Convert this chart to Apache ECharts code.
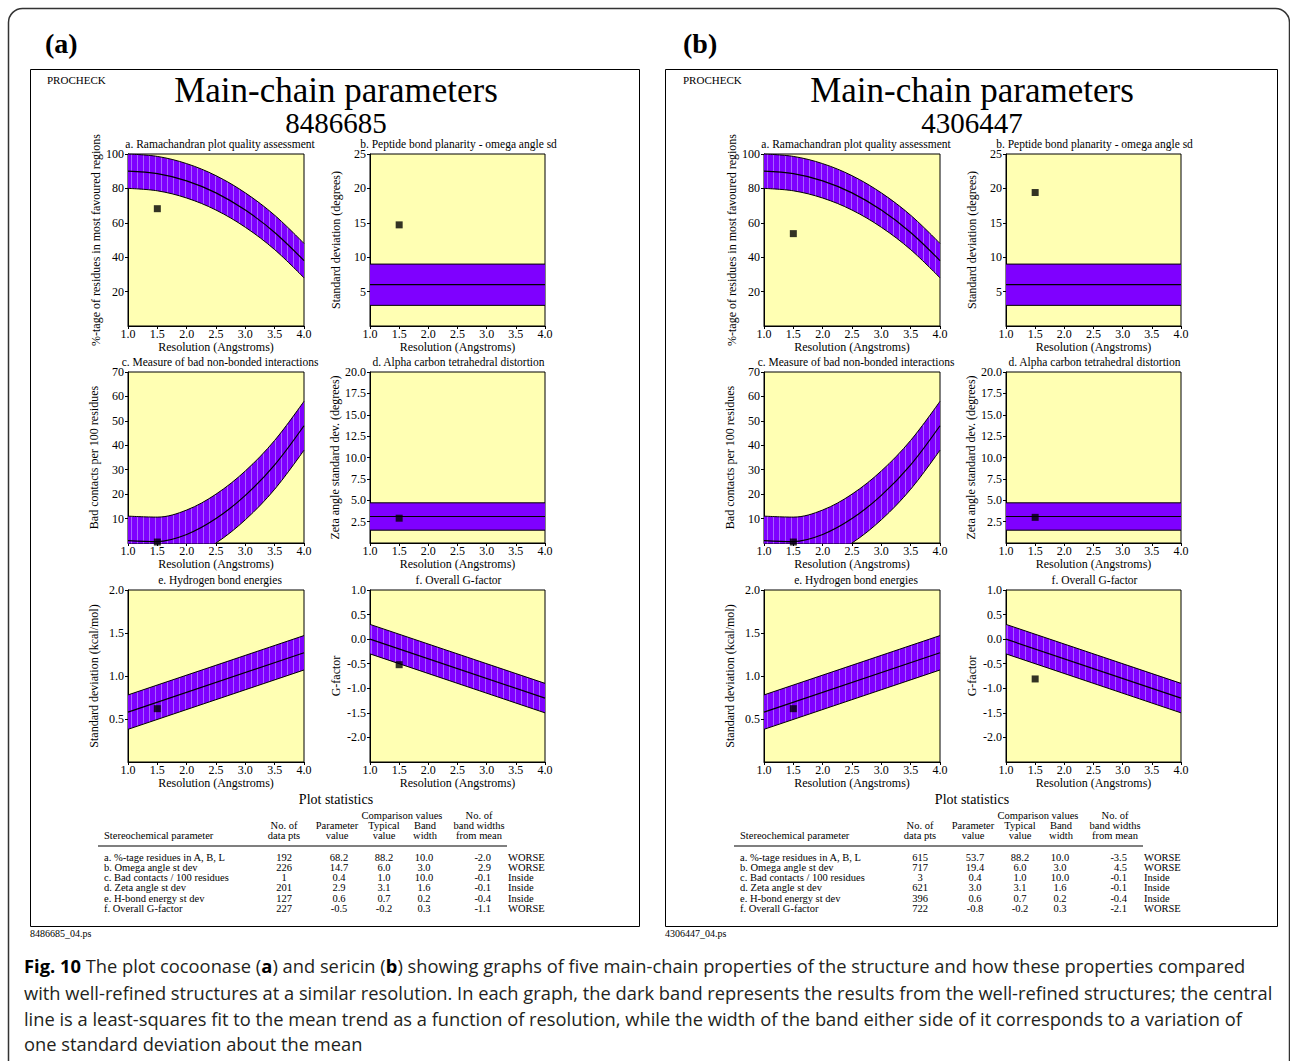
<!DOCTYPE html>
<html>
<head>
<meta charset="utf-8">
<script src="https://cdn.jsdelivr.net/npm/echarts@6/dist/echarts.min.js"></script>
<style>
html,body{margin:0;padding:0;background:#fff;}
#c{width:1290px;height:1061px;}
</style>
</head>
<body>
<div id="c"></div>
<script>
// ---------------- data ----------------
const resCurve = [1.0, 1.5, 2.0, 2.5, 3.0, 3.5, 4.0];   // resolution points for curved fits
const resLine = [1.0, 4.0];                              // resolution points for straight fits
const meanRama = [90, 88.6, 84.4, 77.4, 67.4, 54.4, 38];  // a. mean trend
const meanOmega = [6.0, 6.0];                            // b.
const meanBad = [1.0, 0.6, 3.5, 10, 19.5, 32, 48];        // c.
const meanZeta = [3.1, 3.1];                             // d.
const meanHbond = [0.58, 1.27];                          // e.
const meanG = [0.0, -1.2];                               // f.
const bandWidth = [10.0, 3.0, 10.0, 1.6, 0.2, 0.3];
const pointRes = 1.5;
const pointsA = [68.2, 14.7, 0.4, 2.9, 0.62, -0.52];
const pointsB = [53.7, 19.4, 0.4, 3.0, 0.62, -0.81];
const yMin = [0, 0, 0, 0, 0, -2.5];
const yMax = [100, 25, 70, 20, 2.0, 1.0];
const yStep = [20, 5, 10, 2.5, 0.5, 0.5];
const yDecimals = [0, 0, 0, 1, 1, 1];
const plotTitles = ['a. Ramachandran plot quality assessment', 'b. Peptide bond planarity - omega angle sd',
  'c. Measure of bad non-bonded interactions', 'd. Alpha carbon tetrahedral distortion',
  'e. Hydrogen bond energies', 'f. Overall G-factor'];
const yNames = ['%-tage of residues in most favoured regions', 'Standard deviation (degrees)',
  'Bad contacts per 100 residues', 'Zeta angle standard dev. (degrees)',
  'Standard deviation (kcal/mol)', 'G-factor'];
const xName = 'Resolution (Angstroms)';
const panelIds = ['8486685', '4306447'];
const panelLetters = ['(a)', '(b)'];
const statLabels = ['a. %-tage residues in A, B, L', 'b. Omega angle st dev', 'c. Bad contacts / 100 residues',
  'd. Zeta angle st dev', 'e. H-bond energy st dev', 'f. Overall G-factor'];
const nPtsA = ['192', '226', '1', '201', '127', '227'];
const nPtsB = ['615', '717', '3', '621', '396', '722'];
const paramA = ['68.2', '14.7', '0.4', '2.9', '0.6', '-0.5'];
const paramB = ['53.7', '19.4', '0.4', '3.0', '0.6', '-0.8'];
const typicalVal = ['88.2', '6.0', '1.0', '3.1', '0.7', '-0.2'];
const bandWidthTxt = ['10.0', '3.0', '10.0', '1.6', '0.2', '0.3'];
const nbwA = ['-2.0', '2.9', '-0.1', '-0.1', '-0.4', '-1.1'];
const nbwB = ['-3.5', '4.5', '-0.1', '-0.1', '-0.4', '-2.1'];
const verdictA = ['WORSE', 'WORSE', 'Inside', 'Inside', 'Inside', 'WORSE'];
const verdictB = ['WORSE', 'WORSE', 'Inside', 'Inside', 'Inside', 'WORSE'];
const captionLines = [
  '{b|Fig. 10} The plot cocoonase ({b|a}) and sericin ({b|b}) showing graphs of five main-chain properties of the structure and how these properties compared',
  'with well-refined structures at a similar resolution. In each graph, the dark band represents the results from the well-refined structures; the central',
  'line is a least-squares fit to the mean trend as a function of resolution, while the width of the band either side of it corresponds to a variation of',
  'one standard deviation about the mean'];

// ---------------- layout / style ----------------
const SERIF = '"Liberation Serif", "Times New Roman", serif';
const SANS = '"Open Sans", "Noto Sans", sans-serif';
const PURPLE = '#7f00ff';
const YELLOW = '#ffffb3';
const fits = [
  {x: resCurve, m: meanRama}, {x: resLine, m: meanOmega}, {x: resCurve, m: meanBad},
  {x: resLine, m: meanZeta}, {x: resLine, m: meanHbond}, {x: resLine, m: meanG}];
const striped = [true, false, true, false, true, true];
const colLeft = [128, 370], colW = [176, 175];
const rowTop = [154, 372, 590], rowH = [172, 171, 172];
const yNameGap = [22, 28, 28, 28, 28, 28];
const panelOffset = [0, 636];

function stripeURL() {
  const c = document.createElement('canvas');
  c.width = 6; c.height = 6;
  const g = c.getContext('2d');
  g.fillStyle = PURPLE; g.fillRect(0, 0, 6, 6);
  g.fillStyle = '#a860ff'; g.fillRect(5, 0, 1, 6);
  return c.toDataURL();
}
const stripeFill = {image: stripeURL(), repeat: 'repeat', imageWidth: 6, imageHeight: 6};

const grids = [], xAxes = [], yAxes = [], series = [], graphics = [];

function txt(x, y, text, size, opts) {
  opts = opts || {};
  return {
    type: 'text', x: x, y: y, silent: true, z: 100,
    scaleX: opts.scaleX || 1,
    style: {
      text: text, fill: opts.color || '#000',
      fontFamily: opts.family || SERIF, fontSize: size, fontWeight: opts.weight || 'normal',
      align: opts.align || 'left', verticalAlign: opts.valign || 'middle',
      rich: opts.rich
    }
  };
}

for (let p = 0; p < 2; p++) {
  const ox = panelOffset[p];
  const pts = p === 0 ? pointsA : pointsB;
  for (let k = 0; k < 6; k++) {
    const gi = p * 6 + k;
    const col = k % 2, row = Math.floor(k / 2);
    const left = colLeft[col] + ox, top = rowTop[row];
    grids.push({left: left, top: top, width: colW[col], height: rowH[row], show: true,
      backgroundColor: YELLOW, borderColor: '#000', borderWidth: 1, containLabel: false});
    xAxes.push({
      type: 'value', gridIndex: gi, min: 1, max: 4, interval: 0.5,
      name: xName, nameLocation: 'middle', nameGap: 13,
      nameTextStyle: {fontFamily: SERIF, fontSize: 12, color: '#000'},
      axisLine: {show: true, onZero: false, lineStyle: {color: '#000', width: 1}},
      axisTick: {show: true, length: 3, lineStyle: {color: '#000'}},
      axisLabel: {fontFamily: SERIF, fontSize: 12, color: '#000', margin: 2,
        formatter: v => v.toFixed(1)},
      splitLine: {show: false}
    });
    const dec = yDecimals[k];
    yAxes.push({
      type: 'value', gridIndex: gi, min: yMin[k], max: yMax[k], interval: yStep[k],
      name: yNames[k], nameLocation: 'middle', nameGap: yNameGap[k], nameRotate: 90,
      nameTextStyle: {fontFamily: SERIF, fontSize: 12, color: '#000'},
      axisLine: {show: true, onZero: false, lineStyle: {color: '#000', width: 1}},
      axisTick: {show: true, length: 3, lineStyle: {color: '#000'}},
      axisLabel: {fontFamily: SERIF, fontSize: 12, color: '#000', margin: 4, showMinLabel: false,
        formatter: v => v.toFixed(dec)},
      splitLine: {show: false}
    });
    const f = fits[k], bw = bandWidth[k];
    // value first, resolution second, so that stacking is done on the value (y) dimension
    const common = {type: 'line', xAxisIndex: gi, yAxisIndex: gi, symbol: 'none', silent: true,
      encode: {x: 1, y: 0},
      smooth: f.x.length > 2 ? 0.35 : false, clip: true, animation: false};
    series.push(Object.assign({}, common, {
      name: 'lower' + gi, stack: 'band' + gi, stackStrategy: 'all', z: 2,
      data: f.x.map((x, i) => [f.m[i] - bw, x]),
      lineStyle: {color: '#000', width: 1}
    }));
    series.push(Object.assign({}, common, {
      name: 'band' + gi, stack: 'band' + gi, stackStrategy: 'all', z: 2,
      data: f.x.map((x) => [2 * bw, x]),
      lineStyle: {color: '#000', width: 1},
      areaStyle: {color: striped[k] ? stripeFill : PURPLE, opacity: 1}
    }));
    series.push(Object.assign({}, common, {
      name: 'mean' + gi, z: 3,
      data: f.x.map((x, i) => [f.m[i], x]),
      lineStyle: {color: '#000', width: 1.2}
    }));
    series.push({
      type: 'scatter', xAxisIndex: gi, yAxisIndex: gi, z: 5, silent: true, animation: false,
      symbol: 'rect', symbolSize: 7, itemStyle: {color: '#000'},
      data: [[pointRes, pts[k]]]
    });
    // plot subtitle
    graphics.push(txt(left + colW[col] / 2 + (col === 0 ? 4 : 1), top - 10.5, plotTitles[k], 11.5, {align: 'center'}));
  }
  // panel box and headers
  graphics.push({type: 'rect', silent: true, z: 90,
    shape: {x: (p === 0 ? 30.5 : 665.5), y: 69.5, width: (p === 0 ? 609 : 612), height: 857},
    style: {fill: 'none', stroke: '#000', lineWidth: 1}});
  graphics.push(txt(45 + ox + (p === 1 ? 2 : 0), 43, panelLetters[p], 28, {weight: 'bold'}));
  graphics.push(txt(47 + ox, 80, 'PROCHECK', 11));
  graphics.push(txt(336 + ox, 90, 'Main-chain parameters', 35, {align: 'center'}));
  graphics.push(txt(336 + ox, 123, panelIds[p], 29, {align: 'center'}));
  graphics.push(txt(30 + ox + (p === 1 ? -1 : 0), 933, panelIds[p] + '_04.ps', 10));
  // table
  const T = 10.5;
  graphics.push(txt(336 + ox, 799, 'Plot statistics', 14, {align: 'center'}));
  graphics.push(txt(402 + ox, 815, 'Comparison values', T, {align: 'center'}));
  graphics.push(txt(479 + ox, 815, 'No. of', T, {align: 'center'}));
  graphics.push(txt(104 + ox, 835, 'Stereochemical parameter', T));
  graphics.push(txt(284 + ox, 825, 'No. of', T, {align: 'center'}));
  graphics.push(txt(284 + ox, 835, 'data pts', T, {align: 'center'}));
  graphics.push(txt(337 + ox, 825, 'Parameter', T, {align: 'center'}));
  graphics.push(txt(337 + ox, 835, 'value', T, {align: 'center'}));
  graphics.push(txt(384 + ox, 825, 'Typical', T, {align: 'center'}));
  graphics.push(txt(384 + ox, 835, 'value', T, {align: 'center'}));
  graphics.push(txt(425 + ox, 825, 'Band', T, {align: 'center'}));
  graphics.push(txt(425 + ox, 835, 'width', T, {align: 'center'}));
  graphics.push(txt(479 + ox, 825, 'band widths', T, {align: 'center'}));
  graphics.push(txt(479 + ox, 835, 'from mean', T, {align: 'center'}));
  graphics.push({type: 'line', silent: true, z: 90,
    shape: {x1: 98 + ox, y1: 846, x2: 507 + ox, y2: 846}, style: {stroke: '#000', lineWidth: 1.2}});
  const nP = p === 0 ? nPtsA : nPtsB, pv = p === 0 ? paramA : paramB;
  const nb = p === 0 ? nbwA : nbwB, vd = p === 0 ? verdictA : verdictB;
  for (let i = 0; i < 6; i++) {
    const y = 857 + i * 10.3;
    graphics.push(txt(104 + ox, y, statLabels[i], T));
    graphics.push(txt(284 + ox, y, nP[i], T, {align: 'center'}));
    graphics.push(txt(339 + ox, y, pv[i], T, {align: 'center'}));
    graphics.push(txt(384 + ox, y, typicalVal[i], T, {align: 'center'}));
    graphics.push(txt(424 + ox, y, bandWidthTxt[i], T, {align: 'center'}));
    graphics.push(txt(491 + ox, y, nb[i], T, {align: 'right'}));
    graphics.push(txt(508 + ox, y, vd[i], T));
  }
}

// outer frame
graphics.push({type: 'rect', silent: true, z: 90,
  shape: {x: 8.5, y: 8.5, width: 1281, height: 1080, r: 14},
  style: {fill: 'none', stroke: '#333', lineWidth: 1.5}});

// caption: scale horizontally to match the reference line width
const CAP = 18.5;
const mctx = document.createElement('canvas').getContext('2d');
mctx.font = CAP + 'px ' + SANS;
const capScale = (1273 - 24) / mctx.measureText(captionLines[1]).width;
const capY = [965, 992, 1018, 1043];
captionLines.forEach((line, i) => {
  graphics.push(txt(24, capY[i], line, CAP, {family: SANS, color: '#231f20', scaleX: capScale,
    rich: {b: {fontWeight: 'bold', fontFamily: SANS, fontSize: CAP, fill: '#000'}}}));
});

const chart = echarts.init(document.getElementById('c'), null, {renderer: 'svg', width: 1290, height: 1061});
chart.setOption({
  backgroundColor: '#fff',
  animation: false,
  grid: grids, xAxis: xAxes, yAxis: yAxes, series: series,
  graphic: {elements: graphics}
});
</script>
</body>
</html>
